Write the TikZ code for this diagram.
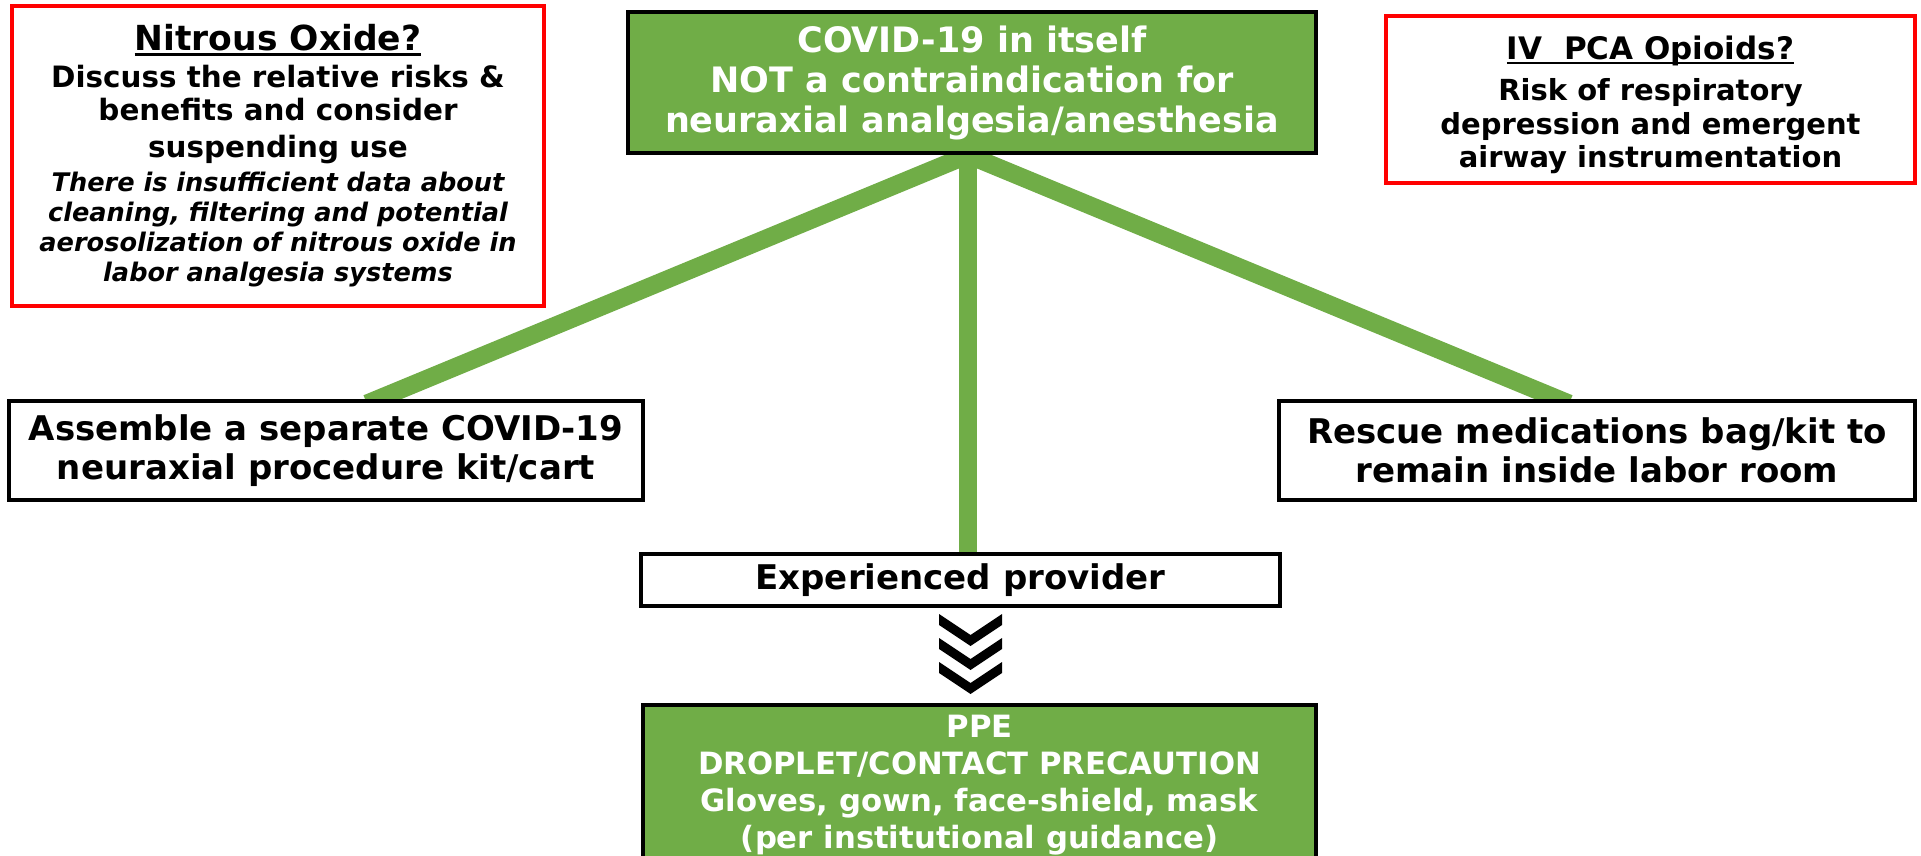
\documentclass[tikz,border=0pt]{standalone}
\usepackage{fontspec}
\setmainfont{DejaVu Sans}
\usetikzlibrary{positioning,calc,backgrounds}
\definecolor{leafgreen}{HTML}{70AD47}
\definecolor{alertred}{HTML}{FF0000}
\newcommand{\setsize}[2]{\fontsize{#1}{#2}\selectfont}
\newcommand{\thickul}[1]{\setbox0\hbox{#1}\dp0=0pt\leavevmode\vtop{\box0\kern2.5pt\hrule height 2.5pt}}
\newcommand{\smallital}[1]{{\itshape\setsize{25.6}{30}#1}}
\tikzset{
        block/.style = {draw, rectangle, fill=white,
            line width=4pt, inner sep=0pt, align=center},
        greenblock/.style = {block, fill=leafgreen, text=white},
        note/.style = {block, draw=alertred, line width=3.5pt},
        link/.style = {draw=leafgreen, line width=18pt,
            shorten <=-12pt, shorten >=-12pt},
    }

\begin{document}
\begin{tikzpicture}[x=1pt, y=-1pt]
\useasboundingbox (0,0) rectangle (1921,856);

\node[greenblock, font=\bfseries\setsize{35}{40},
      minimum width=688pt, minimum height=141pt] (covid) at (972,82.5)
    {COVID-19 in itself\\NOT a contraindication for\\neuraxial analgesia/anesthesia};

\node[note, font=\bfseries\setsize{29.4}{33},
      minimum width=532pt, minimum height=300pt] (nitro) at (278,156)
    {{\setsize{34.5}{38}\thickul{Nitrous Oxide?}}\\[4pt]
     Discuss the relative risks \&\\
     benefits and consider\\[4pt]
     suspending use\\[1pt]
     \smallital{There is insufficient data about}\\[-3pt]
     \smallital{cleaning, filtering and potential}\\[-3pt]
     \smallital{aerosolization of nitrous oxide in}\\[-3pt]
     \smallital{labor analgesia systems}};

\node[note, font=\bfseries\setsize{29}{33.5},
      minimum width=529pt, minimum height=167pt] (opioid) at (1650.5,99.5)
    {{\setsize{31}{34}\rule{0pt}{34pt}\thickul{IV~~PCA Opioids?}}\\[8pt]
     Risk of respiratory\\depression and emergent\\airway instrumentation};

\node[block, font=\bfseries\setsize{34}{38.5},
      minimum width=634pt, minimum height=99pt] (kit) at (326,450.5)
    {Assemble a separate COVID-19\\neuraxial procedure kit/cart};
\node[block, font=\bfseries\setsize{34}{38.5},
      minimum width=636pt, minimum height=99pt] (rescue) at (1597,450.5)
    {Rescue medications bag/kit to\\remain inside labor room};
\node[block, font=\bfseries\setsize{34}{38},
      minimum width=639pt, minimum height=52pt] (provider) at (960.5,580)
    {Experienced provider};
\node[greenblock, font=\bfseries\setsize{30.7}{37},
      minimum width=673pt, minimum height=160pt,
      below=95pt of provider, xshift=19pt] (ppe)
    {PPE\\DROPLET/CONTACT PRECAUTION\\Gloves, gown, face-shield, mask\\(per institutional guidance)};

\coordinate (hub) at ($(covid.south)+(-4,0)$);
\coordinate (kitend) at ($(kit.north)+(52,0)$);
\coordinate (rescueend) at ($(rescue.north)+(-39,0)$);
\begin{scope}[on background layer]
  \draw[link] (hub) -- (kitend);
  \draw[link] (hub) -- (rescueend);
  \draw[link] (hub) -- (hub |- provider.north);
\end{scope}

\coordinate (chev) at ($(provider.south)+(10,6)$);
\foreach \k in {0,1,2}
  \fill ($(chev)+(-31.5,24*\k)$) -- ++(31.5,21) -- ++(31.5,-21) -- ++(0,11)
      -- ++(-31.5,21) -- ++(-31.5,-21) -- cycle;
\end{tikzpicture}
\end{document}
